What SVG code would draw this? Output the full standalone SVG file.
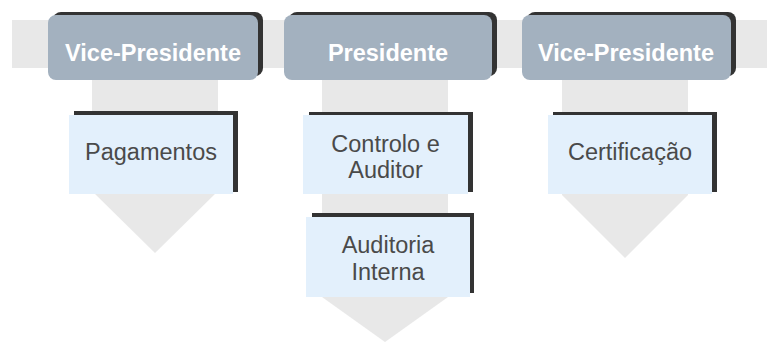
<svg xmlns="http://www.w3.org/2000/svg" width="767" height="343" viewBox="0 0 767 343">
<style>
.bg{fill:#e8e8e8}
.hs{fill:#333333}
.hd{fill:#a3b1bf}
.ht{font-family:"Liberation Sans",Arial,sans-serif;font-weight:bold;font-size:23.5px;fill:#ffffff;text-anchor:middle}
.bs{fill:#333333}
.bx{fill:#e3f0fc}
.bt{font-family:"Liberation Sans",Arial,sans-serif;font-size:23.5px;fill:#4a4a4a;text-anchor:middle}
</style>
<rect class="bg" x="12" y="20" width="755" height="48"/>
<g id="connectors">
<polygon class="bg" points="92,60 218,60 218,191 155,253 92,191"/>
<polygon class="bg" points="322,60 448,60 448,297 385,342 322,297"/>
<polygon class="bg" points="562,60 688,60 688,195 625,258 562,195"/>
</g>
<g id="vp1">
<rect class="hs" x="53" y="12" width="210" height="64" rx="8"/>
<rect class="hd" x="48" y="15" width="210" height="65" rx="8"/>
<text class="ht" x="153" y="61">Vice-Presidente</text>
</g>
<g id="pres">
<rect class="hs" x="289" y="12" width="208" height="64" rx="8"/>
<rect class="hd" x="284" y="15" width="208" height="65" rx="8"/>
<text class="ht" x="388" y="61">Presidente</text>
</g>
<g id="vp2">
<rect class="hs" x="527" y="12" width="209" height="64" rx="8"/>
<rect class="hd" x="522" y="15" width="209" height="65" rx="8"/>
<text class="ht" x="626" y="61">Vice-Presidente</text>
</g>
<g id="pagamentos">
<rect class="bs" x="74" y="111" width="164" height="81"/>
<rect class="bx" x="69" y="115" width="164" height="79"/>
<text class="bt" x="151" y="160">Pagamentos</text>
</g>
<g id="controlo">
<rect class="bs" x="309" y="112" width="164" height="80"/>
<rect class="bx" x="303" y="115" width="165" height="79"/>
<text class="bt" x="385.5" y="152">Controlo e</text>
<text class="bt" x="385.5" y="178">Auditor</text>
</g>
<g id="auditoria">
<rect class="bs" x="312" y="213" width="162" height="80"/>
<rect class="bx" x="306" y="217" width="164" height="80"/>
<text class="bt" x="388" y="253">Auditoria</text>
<text class="bt" x="388" y="280">Interna</text>
</g>
<g id="certificacao">
<rect class="bs" x="553" y="112" width="164" height="80"/>
<rect class="bx" x="548" y="115" width="164" height="79"/>
<text class="bt" x="630" y="160">Certificação</text>
</g>
</svg>
